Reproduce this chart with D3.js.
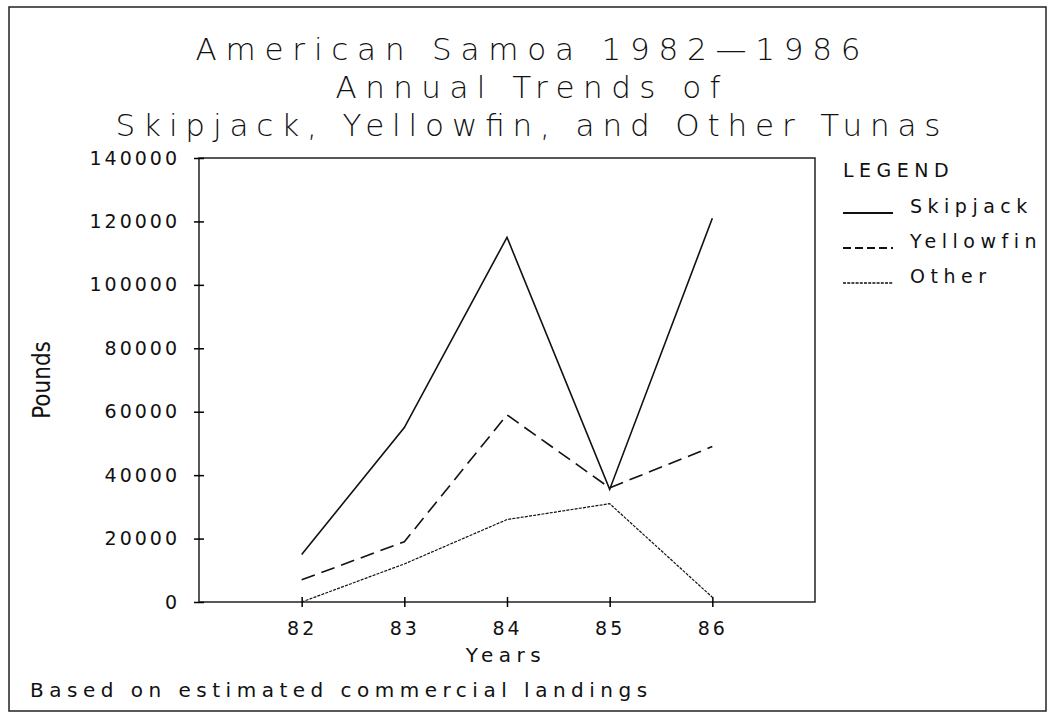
<!DOCTYPE html>
<html lang="en">
<head>
<meta charset="utf-8">
<title>American Samoa 1982-1986 Tunas</title>
<style>
  body { margin: 0; background: #fff; }
  svg text { font-family: "DejaVu Sans", sans-serif; fill: #111; }
  .title { font-size: 31px; font-weight: 300; }
  .tick text { font-size: 19px; letter-spacing: 3px; }
  .lbl { font-size: 20px; letter-spacing: 5.5px; }
  .leg { font-size: 19px; letter-spacing: 5.5px; }
</style>
</head>
<body>
<script src="https://d3js.org/d3.v7.min.js"></script>
<script>
// values (pounds)
var years = [82, 83, 84, 85, 86];
var skipjack = [15000, 55000, 115000, 35500, 121000];
var yellowfin = [7000, 19000, 59000, 36000, 49000];
var other = [0, 12000, 26000, 31000, 1500];
var yTicks = [0, 20000, 40000, 60000, 80000, 100000, 120000, 140000];
var titleLines = ["American Samoa 1982\u20141986", "Annual Trends of", "Skipjack, Yellowfin, and Other Tunas"];
var titleWidths = [665, 385, 825];

var series = [
  {name: "Skipjack", values: skipjack, dash: null, width: 1.6},
  {name: "Yellowfin", values: yellowfin, dash: "14,7", width: 1.6},
  {name: "Other", values: other, dash: "3,1.2", width: 1.2}
];

var width = 1050, height = 717;
var svg = d3.select("body").append("svg")
    .attr("width", width)
    .attr("height", height);

// outer frame
svg.append("rect")
    .attr("x", 9).attr("y", 7)
    .attr("width", 1037).attr("height", 704)
    .attr("fill", "none").attr("stroke", "#222").attr("stroke-width", 1.5);

// title, stretched to the widths of the original lettering
svg.selectAll(".title").data(titleLines).enter().append("text")
    .attr("class", "title")
    .attr("x", 528)
    .attr("y", function(d, i) { return 60 + i * 38; })
    .attr("text-anchor", "middle")
    .attr("textLength", function(d, i) { return titleWidths[i]; })
    .attr("lengthAdjust", "spacing")
    .text(function(d) { return d; });

var x = d3.scaleLinear().domain([81, 87]).range([199, 815]);
var y = d3.scaleLinear().domain([0, 140000]).range([602, 158]);

// plot box
svg.append("rect")
    .attr("x", x(81)).attr("y", y(140000))
    .attr("width", x(87) - x(81)).attr("height", y(0) - y(140000))
    .attr("fill", "none").attr("stroke", "#222").attr("stroke-width", 1.5);

var yAxis = svg.append("g")
    .attr("transform", "translate(" + x(81) + ",0)")
    .call(d3.axisLeft(y).tickValues(yTicks).tickSize(5).tickPadding(14).tickFormat(d3.format("d")));
yAxis.select(".domain").remove();
yAxis.selectAll(".tick line").attr("x2", 5).attr("x1", -5).attr("stroke-width", 1.5);

var xAxis = svg.append("g")
    .attr("transform", "translate(0," + y(0) + ")")
    .call(d3.axisBottom(x).tickValues(years).tickSize(5).tickPadding(15).tickFormat(d3.format("d")));
xAxis.select(".domain").remove();
xAxis.selectAll(".tick line").attr("y1", -5).attr("y2", 5).attr("stroke-width", 1.5);

svg.selectAll(".tick text").attr("fill", "#111").attr("font-family", null).attr("font-size", null);

// axis titles
svg.append("text")
    .attr("class", "lbl")
    .attr("x", 506).attr("y", 662)
    .attr("text-anchor", "middle")
    .text("Years");

svg.append("text")
    .attr("transform", "translate(50,380) rotate(-90)")
    .attr("text-anchor", "middle")
    .style("font-family", "'Liberation Sans Narrow', 'DejaVu Sans Condensed', sans-serif")
    .style("font-size", "24px")
    .text("Pounds");

svg.append("text")
    .attr("class", "lbl")
    .attr("x", 30).attr("y", 697)
    .text("Based on estimated commercial landings");

// lines
var line = d3.line()
    .x(function(d, i) { return x(years[i]); })
    .y(function(d) { return y(d); });

svg.selectAll(".series").data(series).enter().append("path")
    .attr("class", "series")
    .attr("d", function(d) { return line(d.values); })
    .attr("fill", "none")
    .attr("stroke", "#111")
    .attr("stroke-width", function(d) { return d.width; })
    .attr("stroke-dasharray", function(d) { return d.dash; });

// legend
var legend = svg.append("g").attr("transform", "translate(843,0)");
legend.append("text")
    .attr("class", "leg")
    .attr("x", 0).attr("y", 177)
    .text("LEGEND");

var item = legend.selectAll(".item").data(series).enter().append("g")
    .attr("class", "item")
    .attr("transform", function(d, i) { return "translate(0," + (213 + i * 35) + ")"; });
item.append("line")
    .attr("x1", 0).attr("x2", 50)
    .attr("stroke", "#111")
    .attr("stroke-width", function(d) { return d.width + 0.4; })
    .attr("stroke-dasharray", function(d, i) { return i === 1 ? "8,4" : d.dash; });
item.append("text")
    .attr("class", "leg")
    .attr("x", 67).attr("y", 0)
    .text(function(d) { return d.name; });
</script>
</body>
</html>
